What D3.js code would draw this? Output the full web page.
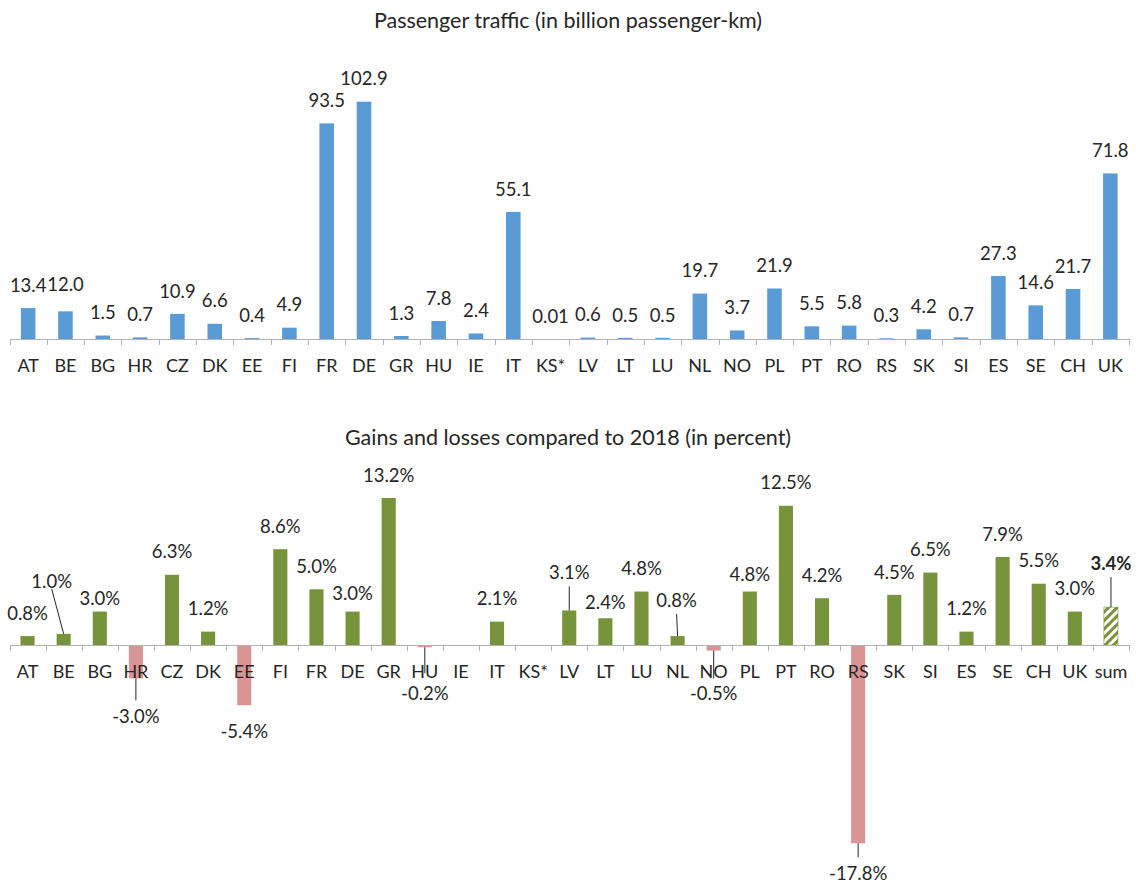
<!DOCTYPE html>
<html><head><meta charset="utf-8">
<script src="https://cdn.jsdelivr.net/npm/d3@7"></script>
<style>
body{margin:0;background:#fff}
text{font-family:Lato,"Open Sans",sans-serif;fill:#262626}
</style>
</head><body><svg id="c" width="1136" height="884"></svg>
<script>
// ---------- data ----------
const countries = ["AT","BE","BG","HR","CZ","DK","EE","FI","FR","DE","GR","HU","IE","IT","KS*","LV","LT","LU","NL","NO","PL","PT","RO","RS","SK","SI","ES","SE","CH","UK"];
const traffic = [13.4,12.0,1.5,0.7,10.9,6.6,0.4,4.9,93.5,102.9,1.3,7.8,2.4,55.1,0.01,0.6,0.5,0.5,19.7,3.7,21.9,5.5,5.8,0.3,4.2,0.7,27.3,14.6,21.7,71.8];
const changeCategories = countries.concat(["sum"]);
const change = [0.8,1.0,3.0,-3.0,6.3,1.2,-5.4,8.6,5.0,3.0,13.2,-0.2,null,2.1,null,3.1,2.4,4.8,0.8,-0.5,4.8,12.5,4.2,-17.8,4.5,6.5,1.2,7.9,5.5,3.0,3.4];
const titles = ["Passenger traffic (in billion passenger-km)","Gains and losses compared to 2018 (in percent)"];

// ---------- layout / style config ----------
const W = 1136, X0 = 9.5, X1 = 1129;
const FS = 18, VFS = 18.5, TFS = 21.5;
const colors = {blue:"#5b9bd5", green:"#77933c", red:"#d99594", axis:"#b3b3b3"};
const topNudge = {BE:{dy:-27}};
const botNudge = {
  BE:{dx:-12,dy:-53,leader:true,gap:8}, BG:{dy:-13}, HR:{dy:38,leader:true}, DE:{dy:-18},
  HU:{dy:46,leader:true,gap:20}, LV:{dy:-38,leader:true}, LT:{dy:-16}, NL:{dx:-1,dy:-36,leader:true},
  NO:{dy:43,leader:true,gap:15}, PL:{dy:-17.5}, RS:{dy:30,leader:true}, sum:{dy:-44,leader:true,bold:true}
};
const hy = s => s.replace("\u2212","-");

const svg = d3.select("#c");
const defs = svg.append("defs");
const pat = defs.append("pattern").attr("id","hatch").attr("patternUnits","userSpaceOnUse")
  .attr("width",6).attr("height",6).attr("patternTransform","rotate(45)");
pat.append("rect").attr("width",6).attr("height",6).attr("fill","#fff");
pat.append("rect").attr("width",3).attr("height",6).attr("fill",colors.green);

function panel(cfg){
  const {cats, vals, axisY, y, title, titleY, fmt, nudge, barFill} = cfg;
  const g = svg.append("g");
  const xb = d3.scaleBand().domain(cats).range([X0,X1]).padding(0);
  const xbar = d3.scaleBand().domain(cats).range([X0,X1]).paddingInner(0.61).paddingOuter(0.305);
  const data = cats.map((c,i)=>({c, v: vals[i]}));

  g.append("text").attr("x",W/2).attr("y",titleY).attr("dy","0.36em")
    .attr("text-anchor","middle").style("font-size",TFS+"px").text(title);

  // bars
  g.selectAll("rect.bar").data(data.filter(d=>d.v!=null)).join("rect")
    .attr("class","bar")
    .attr("x",d=>xbar(d.c)).attr("width",xbar.bandwidth())
    .attr("y",d=>Math.min(y(d.v),y(0))).attr("height",d=>Math.abs(y(d.v)-y(0)))
    .attr("fill",d=>barFill(d)).attr("stroke",d=>d.c==="sum"?colors.green:"none").attr("stroke-width",0.6);

  // axis
  const ax = d3.axisBottom(xb).tickSize(0).tickSizeOuter(0);
  const axg = g.append("g").attr("transform",`translate(0,${axisY})`).call(ax);
  axg.select(".domain").attr("stroke",colors.axis);
  axg.selectAll(".tick text").attr("y",27).attr("dy","0.36em")
    .style("font-size",FS+"px").style("font-family","Lato,'Open Sans',sans-serif").attr("fill","#262626");
  const bounds = cats.map(c=>xb(c)).concat([X1]);
  axg.selectAll("line.tk").data(bounds).join("line").attr("class","tk")
    .attr("x1",d=>Math.round(d)+0.5).attr("x2",d=>Math.round(d)+0.5)
    .attr("y1",0).attr("y2",6).attr("stroke",colors.axis);

  // labels
  data.filter(d=>d.v!=null).forEach(d=>{
    const n = nudge[d.c] || {};
    const cx = xbar(d.c) + xbar.bandwidth()/2;
    const end = y(d.v);
    const neg = d.v < 0;
    const dy = n.dy != null ? n.dy : (neg ? 26 : -23);
    const lx = cx + (n.dx || 0), ly = end + dy;
    g.append("text").attr("x",lx).attr("y",ly).attr("dy","0.36em").attr("text-anchor","middle")
      .style("font-size",VFS+"px").style("font-weight",n.bold?"bold":"normal").text(fmt(d.v));
    if(n.leader){
      const gap = n.gap || (neg ? 16 : 14);
      g.append("line").attr("x1",lx).attr("y1",neg ? ly-gap : ly+gap)
        .attr("x2", n.dx ? cx : lx).attr("y2",end)
        .attr("stroke","#262626").attr("stroke-width",1);
    }
  });
}

// top panel
const yTop = d3.scaleLinear().domain([0,120]).range([339, 339-120*2.306]);
panel({cats:countries, vals:traffic, axisY:339, y:yTop, title:titles[0], titleY:20,
  fmt:v=> v<0.1 ? d3.format(".2f")(v) : d3.format(".1f")(v),
  nudge:topNudge, barFill:()=>colors.blue});

// bottom panel
const yBot = d3.scaleLinear().domain([-20,15]).range([645+20*11.14, 645-15*11.14]);
panel({cats:changeCategories, vals:change, axisY:645, y:yBot, title:titles[1], titleY:437,
  fmt:v=>hy(d3.format(".1f")(v))+"%",
  nudge:botNudge, barFill:d=> d.c==="sum" ? "url(#hatch)" : (d.v<0 ? colors.red : colors.green)});
</script>
</body></html>
